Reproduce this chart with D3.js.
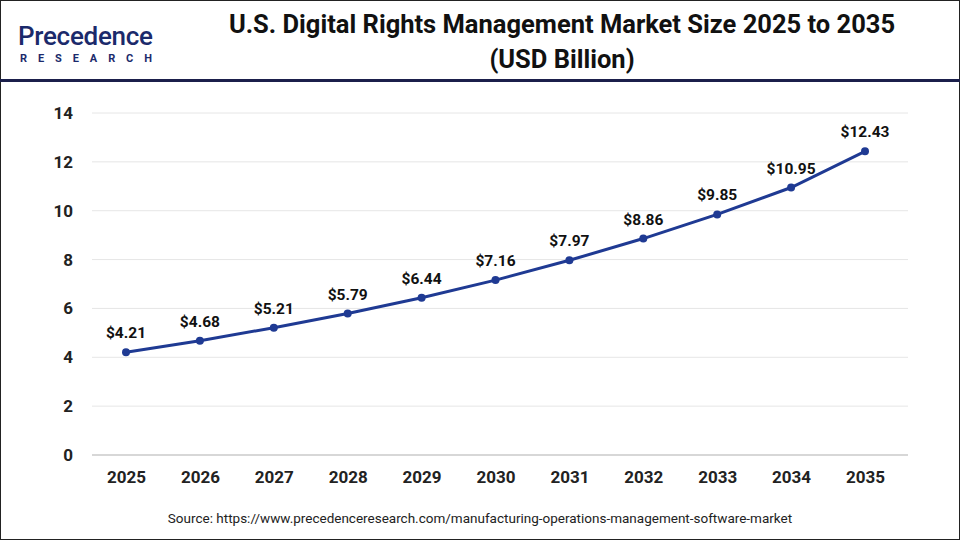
<!DOCTYPE html><html><head><meta charset="utf-8"><script src="https://cdn.jsdelivr.net/npm/d3@7"></script>
<style>body{margin:0;background:#fff}svg{display:block;font-family:Roboto,"Open Sans",sans-serif}</style></head><body><svg width="960" height="540"></svg>
<script>
const years=["2025","2026","2027","2028","2029","2030","2031","2032","2033","2034","2035"];
const values=[4.21,4.68,5.21,5.79,6.44,7.16,7.97,8.86,9.85,10.95,12.43];
const yTicks=[0,2,4,6,8,10,12,14];
const svg=d3.select("svg");
svg.append("rect").attr("x",0.5).attr("y",0.5).attr("width",959).attr("height",539).attr("fill","none").attr("stroke","#222");
svg.append("rect").attr("x",0).attr("y",79).attr("width",960).attr("height",3).attr("fill","#1b1f4b");
const lg=svg.append("g");
lg.append("text").attr("x",18).attr("y",45).attr("font-size",26).attr("font-weight",500).attr("fill","#1b2a6b").attr("textLength",135).text("Precedence");
lg.append("text").attr("x",20).attr("y",62).attr("font-size",11).attr("font-weight",700).attr("fill","#1b2a6b").attr("textLength",132).text("RESEARCH");
svg.append("text").attr("x",562).attr("y",33).attr("text-anchor","middle").attr("font-size",25.5).attr("font-weight",700).attr("fill","#111").text("U.S. Digital Rights Management Market Size 2025 to 2035");
svg.append("text").attr("x",562).attr("y",68).attr("text-anchor","middle").attr("font-size",25.5).attr("font-weight",700).attr("fill","#111").text("(USD Billion)");
const x=d3.scalePoint().domain(years).range([126,865]);
const y=d3.scaleLinear().domain([0,14]).range([455,113]);
svg.append("g").selectAll("line").data(yTicks).join("line").attr("x1",92).attr("x2",908).attr("y1",d=>y(d)).attr("y2",d=>y(d)).attr("stroke","#e6e6e6");
svg.append("line").attr("x1",92).attr("x2",908).attr("y1",455).attr("y2",455).attr("stroke","#bbb");
const ya=svg.append("g").attr("transform","translate(76,0)").call(d3.axisLeft(y).tickValues(yTicks).tickSize(0));
ya.select(".domain").remove();
ya.selectAll("text").attr("font-size",17).attr("font-weight",700).attr("fill","#222").attr("font-family","Roboto,sans-serif");
const xa=svg.append("g").attr("transform","translate(0,468)").call(d3.axisBottom(x).tickSize(0));
xa.select(".domain").remove();
xa.selectAll("text").attr("font-size",17).attr("font-weight",700).attr("fill","#222").attr("font-family","Roboto,sans-serif");
svg.append("path").datum(values).attr("fill","none").attr("stroke","#1f3a93").attr("stroke-width",3)
 .attr("d",d3.line().x((d,i)=>x(years[i])).y(d=>y(d)));
svg.append("g").selectAll("circle").data(values).join("circle").attr("cx",(d,i)=>x(years[i])).attr("cy",d=>y(d)).attr("r",4).attr("fill","#1f3a93");
svg.append("g").selectAll("text").data(values).join("text").attr("x",(d,i)=>x(years[i])).attr("y",d=>y(d)-14).attr("text-anchor","middle").attr("font-size",15.5).attr("font-weight",700).attr("fill","#111").text(d=>"$"+d.toFixed(2));
svg.append("text").attr("x",480).attr("y",523).attr("text-anchor","middle").attr("font-size",13.5).attr("fill","#222").text("Source: https://www.precedenceresearch.com/manufacturing-operations-management-software-market");
</script></body></html>
